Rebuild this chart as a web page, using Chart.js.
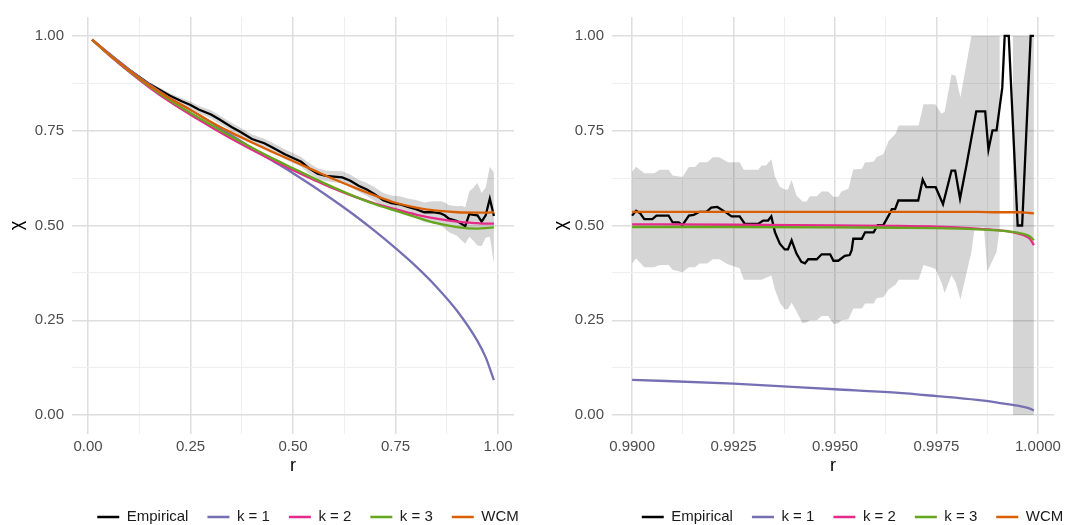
<!DOCTYPE html>
<html>
<head>
<meta charset="utf-8">
<script src="https://cdn.jsdelivr.net/npm/chart.js@4.4.1/dist/chart.umd.min.js"></script>
<style>
  html, body { margin: 0; padding: 0; background: #fff; }
  #wrap { position: relative; width: 1087px; height: 525px; }
  #left { position: absolute; left: 0; top: 0; }
  #right { position: absolute; left: 543px; top: 0; }
</style>
</head>
<body>
<div id="wrap">
  <canvas id="left" width="543" height="525"></canvas>
  <canvas id="right" width="544" height="525"></canvas>
</div>
<script>
// ---- ticks ----
const yMajor = [0, 0.25, 0.5, 0.75, 1];
const yMinor = [0.125, 0.375, 0.625, 0.875];
const xMajorL = [0, 0.25, 0.5, 0.75, 1];
const xMinorL = [0.125, 0.375, 0.625, 0.875];
const xMajorR = [0.99, 0.9925, 0.995, 0.9975, 1];
const xMinorR = [0.99125, 0.99375, 0.99625, 0.99875];

const seriesNames = ["Empirical", "k = 1", "k = 2", "k = 3", "WCM"];
const seriesColors = ["#000000", "#7570B3", "#E7298A", "#66A61E", "#D95F02"];

// ---- left panel: r in (0, 1) ----
const empR1 = [0.01,0.05,0.10,0.15,0.20,0.23,0.25,0.27,0.30,0.32,0.35,0.37,0.40,0.43,0.45,0.48,0.50,0.52,0.54,0.56,0.58,0.60,0.62,0.64,0.66,0.68,0.70,0.72,0.74,0.76,0.78,0.80,0.82,0.84,0.86,0.87,0.88,0.90,0.91,0.92,0.93,0.94,0.95,0.96,0.97,0.98,0.99];
const empChi1 = [0.990,0.953,0.911,0.873,0.842,0.827,0.818,0.806,0.793,0.780,0.760,0.748,0.728,0.717,0.706,0.688,0.678,0.668,0.650,0.637,0.631,0.629,0.627,0.618,0.605,0.595,0.582,0.567,0.559,0.556,0.549,0.543,0.535,0.535,0.532,0.527,0.518,0.512,0.505,0.498,0.530,0.528,0.527,0.510,0.527,0.571,0.525];
const ribLo1 = [0.990,0.951,0.907,0.868,0.835,0.819,0.809,0.797,0.782,0.769,0.749,0.737,0.716,0.705,0.694,0.675,0.665,0.655,0.636,0.623,0.617,0.614,0.611,0.602,0.589,0.578,0.564,0.548,0.539,0.535,0.527,0.519,0.509,0.506,0.500,0.493,0.482,0.473,0.462,0.452,0.470,0.460,0.447,0.446,0.468,0.470,0.400];
const ribHi1 = [0.990,0.955,0.915,0.878,0.849,0.835,0.827,0.815,0.804,0.791,0.771,0.759,0.740,0.729,0.718,0.701,0.691,0.681,0.664,0.651,0.645,0.644,0.643,0.634,0.621,0.612,0.600,0.586,0.579,0.577,0.571,0.567,0.561,0.564,0.564,0.561,0.554,0.551,0.552,0.548,0.590,0.600,0.612,0.586,0.600,0.655,0.640];

const modelR1 = [0.01,0.05,0.10,0.15,0.20,0.25,0.30,0.35,0.40,0.45,0.50,0.55,0.60,0.65,0.70,0.75,0.80,0.85,0.90,0.95,0.97,0.99];
const k1L = [0.990,0.955,0.912,0.872,0.836,0.805,0.772,0.738,0.704,0.671,0.638,0.603,0.566,0.527,0.485,0.440,0.392,0.338,0.275,0.195,0.152,0.092];
const k2L = [0.990,0.951,0.906,0.864,0.826,0.792,0.760,0.729,0.700,0.672,0.646,0.621,0.597,0.576,0.558,0.543,0.529,0.518,0.510,0.506,0.505,0.505];
const k3L = [0.990,0.952,0.908,0.867,0.830,0.797,0.765,0.734,0.705,0.677,0.651,0.625,0.600,0.577,0.556,0.539,0.522,0.506,0.496,0.492,0.493,0.495];
const wcmL = [0.990,0.953,0.910,0.870,0.835,0.805,0.773,0.745,0.719,0.694,0.670,0.646,0.622,0.600,0.579,0.560,0.547,0.539,0.535,0.534,0.534,0.535];

// ---- right panel: r in (0.99, 1) ----
const empR2 = [0.99000,0.99010,0.99020,0.99030,0.99050,0.99060,0.99090,0.99100,0.99115,0.99124,0.99140,0.99152,0.99166,0.99183,0.99195,0.99210,0.99232,0.99245,0.99265,0.99278,0.99310,0.99323,0.99335,0.99343,0.99352,0.99364,0.99376,0.99384,0.99393,0.99405,0.99417,0.99426,0.99434,0.99455,0.99467,0.99488,0.99496,0.99508,0.99524,0.99536,0.99541,0.99545,0.99566,0.99574,0.99595,0.99605,0.99619,0.99632,0.99640,0.99648,0.99656,0.99705,0.99716,0.99725,0.99748,0.99766,0.99787,0.99796,0.99808,0.99824,0.99848,0.99870,0.99878,0.99888,0.99898,0.99912,0.99918,0.99928,0.99950,0.99961,0.99982,0.99990];
const empChi2 = [0.526,0.539,0.532,0.517,0.517,0.526,0.526,0.508,0.508,0.501,0.526,0.528,0.536,0.536,0.547,0.549,0.534,0.524,0.524,0.504,0.504,0.513,0.513,0.524,0.482,0.452,0.437,0.437,0.461,0.426,0.404,0.400,0.411,0.411,0.424,0.424,0.407,0.407,0.420,0.422,0.435,0.465,0.465,0.482,0.482,0.501,0.501,0.526,0.543,0.543,0.566,0.566,0.621,0.601,0.601,0.556,0.645,0.645,0.571,0.660,0.801,0.801,0.700,0.751,0.751,0.863,1.000,1.000,0.500,0.500,1.000,1.000];
const ribR2 = [0.99000,0.99010,0.99030,0.99055,0.99068,0.99090,0.99100,0.99124,0.99140,0.99155,0.99166,0.99185,0.99199,0.99215,0.99236,0.99265,0.99275,0.99311,0.99319,0.99330,0.99343,0.99352,0.99364,0.99376,0.99384,0.99393,0.99405,0.99420,0.99430,0.99438,0.99455,0.99467,0.99483,0.99496,0.99508,0.99516,0.99533,0.99545,0.99566,0.99574,0.99595,0.99603,0.99619,0.99632,0.99649,0.99657,0.99706,0.99718,0.99747,0.99762,0.99770,0.99787,0.99797,0.99809,0.99836,0.99844,0.99867,0.99875,0.99898,0.99906,0.99920,0.99938,0.99990];
const ribLo2 = [0.400,0.413,0.390,0.390,0.396,0.396,0.383,0.377,0.390,0.390,0.400,0.400,0.411,0.411,0.398,0.387,0.357,0.357,0.357,0.362,0.368,0.331,0.296,0.279,0.279,0.296,0.274,0.242,0.245,0.250,0.250,0.261,0.261,0.240,0.242,0.250,0.253,0.281,0.281,0.294,0.294,0.309,0.311,0.331,0.344,0.357,0.357,0.396,0.386,0.350,0.322,0.369,0.350,0.305,0.430,0.495,0.495,0.378,0.430,0.495,null,0,0];
const ribHi2 = [0.642,0.655,0.638,0.638,0.647,0.647,0.632,0.628,0.654,0.654,0.667,0.667,0.680,0.680,0.667,0.667,0.647,0.647,0.658,0.658,0.675,0.629,0.602,0.595,0.595,0.621,0.579,0.563,0.563,0.577,0.577,0.590,0.590,0.576,0.576,0.590,0.597,0.648,0.650,0.666,0.668,0.681,0.688,0.723,0.742,0.764,0.764,0.820,0.820,0.795,0.800,0.898,0.895,0.838,1,1,1,1,1,1,null,1,1];

const modelR2 = [0.9900,0.9925,0.9950,0.9965,0.9975,0.9985,0.9990,0.9993,0.9995,0.9997,0.9998,0.9999];
const k1R = [0.093,0.083,0.068,0.059,0.050,0.040,0.033,0.028,0.025,0.020,0.017,0.012];
const k2R = [0.503,0.502,0.500,0.499,0.497,0.492,0.488,0.484,0.479,0.472,0.465,0.448];
const k3R = [0.496,0.496,0.495,0.494,0.493,0.490,0.487,0.484,0.481,0.476,0.471,0.461];
const wcmR = [0.536,0.536,0.536,0.536,0.536,0.536,0.535,0.535,0.535,0.534,0.533,0.532];

const FONT = "'Liberation Sans', Arial, Helvetica, sans-serif";

function pts(xs, ys) {
  return xs.map((x, i) => ({ x: x, y: ys[i] }));
}

// move the legend box after layout (ggplot centres it differently)
const shiftLegend = {
  id: "shiftLegend",
  afterLayout(chart, args, opts) {
    const lg = chart.legend;
    if (!lg) return;
    lg.left += opts.dx; lg.right += opts.dx;
    lg.top += opts.dy; lg.bottom += opts.dy;
  },
};

function buildAxis(o) {
  const all = o.major.concat(o.minor).sort((a, b) => a - b);
  const isMajor = (v) => o.major.some((m) => Math.abs(m - v) < 1e-9);
  return {
    type: "linear",
    min: o.min,
    max: o.max,
    afterBuildTicks: (s) => { s.ticks = all.map((v) => ({ value: v })); },
    afterFit: (s) => { if (o.isX) s.height = o.size; else s.width = o.size; },
    ticks: {
      autoSkip: false,
      maxRotation: 0,
      padding: o.tickPad,
      color: "#4d4d4d",
      font: { family: FONT, size: 15 },
      callback: (v) => (isMajor(v) ? v.toFixed(o.digits) : ""),
    },
    grid: {
      drawTicks: false,
      color: (c) => (c.tick && isMajor(c.tick.value) ? "#dedede" : "#efefef"),
      lineWidth: (c) => (c.tick && isMajor(c.tick.value) ? 1.5 : 1),
    },
    border: { display: false },
    title: {
      display: true,
      text: o.title,
      color: "#000",
      font: { family: FONT, size: 18 },
      padding: o.titlePad,
    },
  };
}

function makeChart(id, d) {
  const ys = [d.emp, d.k1, d.k2, d.k3, d.wcm];
  const datasets = [
    { label: "", data: pts(d.ribR, d.ribLo), borderWidth: 0, fill: false, order: 6 },
    { label: "", data: pts(d.ribR, d.ribHi), borderWidth: 0, fill: "-1",
      backgroundColor: "rgba(0,0,0,0.165)", order: 6 },
  ];
  seriesNames.forEach((name, i) => {
    datasets.push({
      label: name,
      data: pts(i === 0 ? d.empR : d.modelR, ys[i]),
      borderColor: seriesColors[i],
      backgroundColor: seriesColors[i],
      borderWidth: 2.3,
      fill: false,
      tension: 0,
      cubicInterpolationMode: i === 0 ? "default" : "monotone",
      order: 5 - i,
    });
  });

  return new Chart(document.getElementById(id), {
    type: "line",
    data: { datasets: datasets },
    options: {
      responsive: false,
      animation: false,
      devicePixelRatio: 1,
      layout: { padding: { top: 12, right: d.padRight, bottom: 0, left: 0 } },
      elements: { point: { radius: 0, hoverRadius: 0 } },
      scales: {
        x: buildAxis({ major: d.xMajor, minor: d.xMinor, min: d.xMin, max: d.xMax,
          digits: d.xDigits, title: "r", titlePad: { top: 0, bottom: 4 },
          tickPad: 4, size: 47, isX: true }),
        y: buildAxis({ major: yMajor, minor: yMinor, min: -0.05, max: 1.05,
          digits: 2, title: "\u03c7", titlePad: { top: d.yTitlePad, bottom: 0 },
          tickPad: 8, size: d.yWidth, isX: false }),
      },
      plugins: {
        legend: {
          position: "bottom",
          labels: {
            boxWidth: 22,
            boxHeight: 0,
            padding: 19,
            color: "#1a1a1a",
            font: { family: FONT, size: 15 },
            filter: (item) => item.text !== "",
            sort: (a, b) => a.datasetIndex - b.datasetIndex,
          },
        },
        tooltip: { enabled: false },
        shiftLegend: { dx: d.dx, dy: 9.5 },
      },
    },
    plugins: [shiftLegend],
  });
}

makeChart("left", {
  empR: empR1, emp: empChi1, ribR: empR1, ribLo: ribLo1, ribHi: ribHi1,
  modelR: modelR1, k1: k1L, k2: k2L, k3: k3L, wcm: wcmL,
  xMajor: xMajorL, xMinor: xMinorL, xMin: -0.039, xMax: 1.039, xDigits: 2,
  padRight: 29, yWidth: 72, yTitlePad: 6, dx: 51,
});

makeChart("right", {
  empR: empR2, emp: empChi2, ribR: ribR2, ribLo: ribLo2, ribHi: ribHi2,
  modelR: modelR2, k1: k1R, k2: k2R, k3: k3R, wcm: wcmR,
  xMajor: xMajorR, xMinor: xMinorR, xMin: 0.989505, xMax: 1.000395, xDigits: 4,
  padRight: 33, yWidth: 69, yTitlePad: 7, dx: 54,
});
</script>
</body>
</html>
